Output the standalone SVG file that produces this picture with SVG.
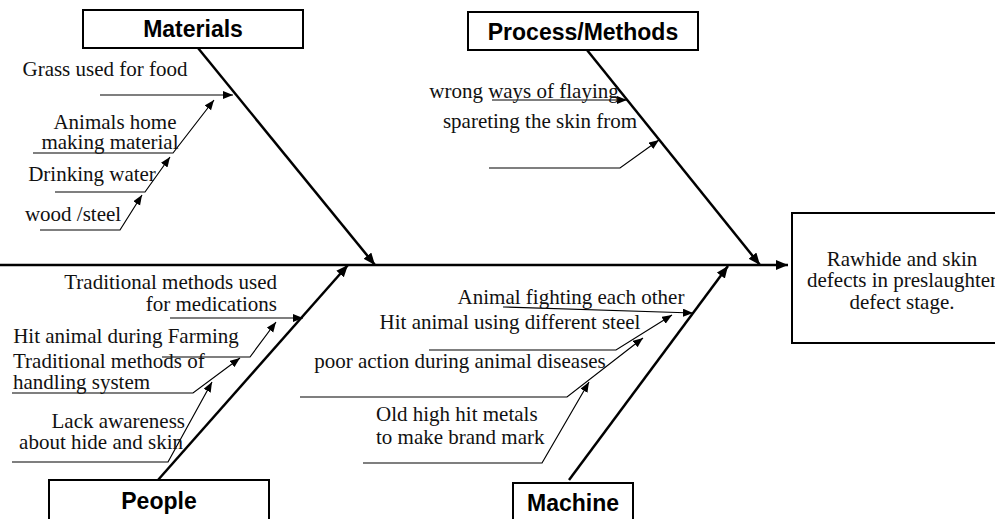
<svg xmlns="http://www.w3.org/2000/svg" width="995" height="519" viewBox="0 0 995 519">
<style>
.box{fill:#fff;stroke:#000;stroke-width:2}
.hd{font-family:"Liberation Sans",Arial,sans-serif;font-weight:bold;font-size:23px;fill:#000;text-anchor:middle}
.t{font-family:"Liberation Serif","Times New Roman",serif;font-size:21px;fill:#111}
.m{text-anchor:middle}
.e{text-anchor:end}
.spine{stroke:#000;stroke-width:2.5;fill:none}
.sub{stroke:#000;stroke-width:1.2;fill:none}
</style>
<defs>
<marker id="big" markerUnits="userSpaceOnUse" markerWidth="14" markerHeight="12" refX="12" refY="5" orient="auto"><path d="M0,0 L12,5 L0,10 Z" fill="#000"/></marker>
<marker id="small" markerUnits="userSpaceOnUse" markerWidth="12" markerHeight="10" refX="10" refY="4" orient="auto"><path d="M0,0 L10,4 L0,8 Z" fill="#000"/></marker>
</defs>
<g id="connectors">
<line class="spine" x1="0" y1="265" x2="788" y2="265" marker-end="url(#big)"/>
<line class="spine" x1="198" y1="48" x2="375" y2="265" marker-end="url(#big)"/>
<line class="spine" x1="587" y1="50" x2="760" y2="265" marker-end="url(#big)"/>
<line class="spine" x1="158" y1="480" x2="348" y2="265" marker-end="url(#big)"/>
<line class="spine" x1="569" y1="480" x2="728" y2="266" marker-end="url(#big)"/>
<polyline class="sub" points="100,95 233,95" marker-end="url(#small)"/>
<polyline class="sub" points="33,153 173,153 214,100" marker-end="url(#small)"/>
<polyline class="sub" points="55,192 145,192 170,157" marker-end="url(#small)"/>
<polyline class="sub" points="40,230 120,230 142,195" marker-end="url(#small)"/>
<polyline class="sub" points="492,100 627,100" marker-end="url(#small)"/>
<polyline class="sub" points="489,168 620,168 659,140" marker-end="url(#small)"/>
<polyline class="sub" points="170,318 303,318" marker-end="url(#small)"/>
<polyline class="sub" points="162,357 250,357 276,322" marker-end="url(#small)"/>
<polyline class="sub" points="12,393 193,393 240,358" marker-end="url(#small)"/>
<polyline class="sub" points="12,462 168,462 212,382" marker-end="url(#small)"/>
<polyline class="sub" points="503,307 693,313" marker-end="url(#small)"/>
<polyline class="sub" points="429,350 616,350 672,315" marker-end="url(#small)"/>
<polyline class="sub" points="300,397 567,397 643,338" marker-end="url(#small)"/>
<polyline class="sub" points="363,463 542,463 589,382" marker-end="url(#small)"/>
</g>
<g id="materials">
<rect class="box" x="83" y="10" width="220" height="38"/>
<text class="hd" x="193" y="37">Materials</text>
<text class="t m" x="105" y="76">Grass used for food</text>
<text class="t m" x="115" y="129">Animals home</text>
<text class="t m" x="110" y="149">making material</text>
<text class="t m" x="92" y="181">Drinking water</text>
<text class="t m" x="73" y="221">wood /steel</text>
</g>
<g id="process">
<rect class="box" x="468" y="12" width="230" height="38"/>
<text class="hd" x="583" y="40">Process/Methods</text>
<text class="t m" x="524" y="98">wrong ways of flaying</text>
<text class="t m" x="540" y="128">spareting the skin from</text>
</g>
<g id="people">
<rect class="box" x="49" y="480" width="220" height="40"/>
<text class="hd" x="159" y="509">People</text>
<text class="t e" x="277" y="289">Traditional methods used</text>
<text class="t e" x="277" y="311">for medications</text>
<text class="t m" x="126" y="343">Hit animal during Farming</text>
<text class="t" x="13" y="368">Traditional methods of</text>
<text class="t" x="13" y="389">handling system</text>
<text class="t e" x="185" y="428">Lack awareness</text>
<text class="t e" x="183" y="449">about hide and skin</text>
</g>
<g id="machine">
<rect class="box" x="513" y="483" width="120" height="40"/>
<text class="hd" x="573" y="511">Machine</text>
<text class="t m" x="571" y="304">Animal fighting each other</text>
<text class="t m" x="510" y="329">Hit animal using different steel</text>
<text class="t m" x="460" y="368">poor action during animal diseases</text>
<text class="t" x="376" y="421">Old high hit metals</text>
<text class="t" x="376" y="444">to make brand mark</text>
</g>
<g id="effect">
<rect class="box" x="792" y="213" width="220" height="130"/>
<text class="t m" x="902" y="266">Rawhide and skin</text>
<text class="t" x="807" y="287">defects in preslaughter</text>
<text class="t m" x="902" y="309">defect stage.</text>
</g>
</svg>
